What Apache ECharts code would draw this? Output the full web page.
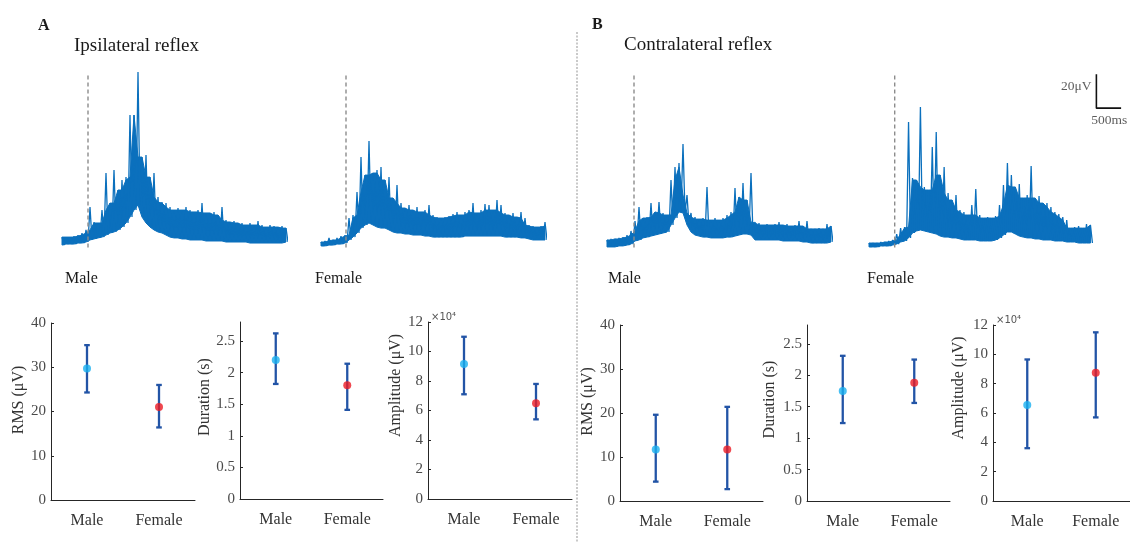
<!DOCTYPE html>
<html>
<head>
<meta charset="utf-8">
<script src="https://cdn.jsdelivr.net/npm/echarts@6/dist/echarts.min.js"></script>
<style>
  html, body { margin: 0; padding: 0; background: #fff; }
  #chart { width: 1130px; height: 543px; }
</style>
</head>
<body>
<div id="chart"></div>
<script>
// ---- EMG traces: upper / lower envelope of the rectified signal (µV), one value per sample ----
const SAMPLE_MS = 80;

const ipsiMaleUpper = [7.6,7.6,7.6,8.2,8.8,10,11.8,25.3,16.5,15.9,23.5,45.3,27.6,47.1,35.3,41.2,42.9,79.4,79.4,104.7,54.7,55.9,42.9,45.3,31.2,28.2,27.6,25.3,23.5,24.7,23.5,25.3,23.5,22.4,23.5,27.6,21.8,21.8,22.4,20.6,25.3,17.6,16.5,17.1,15.9,15.9,14.7,15.9,14.7,17.1,14.7,13.5,14.7,14.1,13.5,14.1,12.9];
const ipsiMaleLower = [2.9,3.5,3.5,3.5,4.1,4.1,4.7,5.9,6.5,7.1,7.6,8.8,10,10.6,11.8,13.5,15.9,19.4,23.5,26.5,19.4,15.9,13.5,11.8,10.6,10,8.8,7.6,7.1,7.1,6.5,6.5,5.9,5.9,5.9,5.9,5.3,5.3,5.3,5.3,5.3,4.7,4.7,4.7,4.7,4.7,4.7,4.1,4.1,4.1,4.1,4.1,4.1,4.1,4.1,4.1,4.7];

const ipsiFemaleUpper = [4.7,5.3,7.1,5.9,7.1,8.2,8.8,18.8,20.6,34.1,54.7,44.1,64.1,45.3,47.1,48.8,41.2,42.9,30.6,38.2,27.6,24.7,26.5,23.5,25.3,22.4,23.5,26.5,20.6,19.4,18.8,19.4,20,21.2,22.4,20.6,22.4,23.5,27.6,21.8,23.5,27.1,26.5,23.5,29.4,26.5,21.8,20.6,21.8,19.4,22.4,18.8,14.7,14.1,13.5,14.1,16.5];
const ipsiFemaleLower = [2.4,2.4,2.9,2.9,3.5,3.5,4.1,5.9,7.6,10,12.9,14.7,15.9,14.7,13.5,12.9,12.9,11.8,10.6,10,10,9.4,9.4,8.8,8.8,8.8,8.2,8.2,7.6,7.6,7.6,7.6,7.6,7.6,7.6,7.6,8.2,8.2,8.2,8.2,8.2,8.2,8.2,8.2,8.2,8.2,7.6,7.6,7.6,7.6,7.1,7.1,6.5,5.9,5.9,5.9,5.9];

const contraMaleUpper = [5.9,6.5,6.5,7.1,7.6,8.8,11.2,17.1,25.3,18.8,19.4,27.6,22.4,28.2,21.8,20.6,41.2,48.8,51.2,62.4,32.4,21.8,19.4,18.2,18.8,37.1,17.6,18.8,17.6,18.8,20.6,22.4,36.5,31.2,39.4,29.4,45.3,16.5,15.9,14.7,15.3,14.7,15.3,16.5,14.7,15.3,14.1,14.7,17.1,14.1,17.1,12.4,12.4,12.9,12.4,15.3,14.1];
const contraMaleLower = [1.8,1.8,1.8,2.4,2.4,2.9,3.5,5.3,5.9,7.1,7.6,8.2,8.8,9.4,10,10.6,14.7,18.8,22.4,21.8,14.7,10.6,8.8,8.2,7.6,7.6,7.1,7.1,7.1,7.1,7.6,7.6,8.2,8.8,9.4,9.4,8.8,5.9,5.9,5.9,5.9,5.9,5.9,5.9,5.3,5.3,5.3,5.3,5.3,4.7,4.7,4.1,4.1,4.1,4.1,4.1,4.7];

const contraFemaleUpper = [4.1,4.1,4.1,4.7,4.7,5.3,5.9,9.4,12.9,13.5,75.3,42.4,41.2,84.1,37.1,35.3,60.6,69.4,44.1,48.8,33.5,29.4,32.4,23.5,22.4,20.6,26.5,35.9,20.6,18.8,19.4,18.8,20,26.5,38.2,51.2,44.1,37.1,38.8,30.6,32.4,49.4,30.6,31.8,27.6,27.6,25.3,22.4,21.2,19.4,17.6,12.9,13.5,14.1,12.9,15.3,14.7];
const contraFemaleLower = [1.8,1.8,1.8,2.4,2.4,2.4,2.9,3.5,4.7,5.3,7.1,10,11.2,11.8,11.2,10.6,10,9.4,8.2,7.6,7.6,7.1,7.1,6.5,5.9,5.9,5.9,5.9,5.3,5.3,5.3,5.3,5.9,7.1,8.8,10.6,10.6,9.4,8.2,7.6,7.1,7.1,6.5,6.5,5.9,5.9,5.9,5.3,5.3,5.3,4.7,4.7,4.7,4.1,4.1,4.1,4.1];

// stimulus onset per trace (ms from trace start)
const stimOnsetMs = [520, 500, 540, 520];
const onsetLineRangeUv = [1.5, 103];

// scale bar
const SCALE_BAR_UV = 20;
const SCALE_BAR_MS = 500;

// ---- group statistics: mean with error-bar limits ----
const groups = ['Male', 'Female'];

const ipsiRmsMean = [29.7, 21.0];
const ipsiRmsLow  = [24.3, 16.4];
const ipsiRmsHigh = [35.0, 26.0];

const ipsiDurMean = [2.20, 1.80];
const ipsiDurLow  = [1.82, 1.41];
const ipsiDurHigh = [2.62, 2.14];

const ipsiAmpMean = [91500, 65000];
const ipsiAmpLow  = [71000, 54000];
const ipsiAmpHigh = [110000, 78000];

const contraRmsMean = [11.7, 11.7];
const contraRmsLow  = [4.4, 2.7];
const contraRmsHigh = [19.6, 21.4];

const contraDurMean = [1.75, 1.88];
const contraDurLow  = [1.24, 1.56];
const contraDurHigh = [2.31, 2.25];

const contraAmpMean = [65500, 87500];
const contraAmpLow  = [36000, 57000];
const contraAmpHigh = [96500, 115000];

const rmsTicks = [0, 10, 20, 30, 40];
const durTicks = [0, 0.5, 1, 1.5, 2, 2.5];
const ampTicks = [0, 20000, 40000, 60000, 80000, 100000, 120000];

// ---- styling ----
const SERIF = "'Liberation Serif', 'DejaVu Serif', serif";
const TRACE_COLOR = '#0b70bd';
const AXIS_COLOR = '#262626';
const LABEL_COLOR = '#4a4a4a';
const BAR_COLOR = '#2254a6';
const GROUP_COLORS = ['#19b0f0', '#ec1c24'];
const MS_PER_PX = 20;   // horizontal trace scale
const UV_SPAN = 103;    // vertical trace range shown in 175 px

const traces = [
  { upper: ipsiMaleUpper, lower: ipsiMaleLower },
  { upper: ipsiFemaleUpper, lower: ipsiFemaleLower },
  { upper: contraMaleUpper, lower: contraMaleLower },
  { upper: contraFemaleUpper, lower: contraFemaleLower }
];
const traceLeft = [62, 321, 607, 869];
const traceWidth = [224, 224, 224, 264];   // the last one also carries the scale bar

const panels = [
  { mean: ipsiRmsMean, low: ipsiRmsLow, high: ipsiRmsHigh, name: 'RMS (μV)', max: 40, ticks: rmsTicks, scale: 1 },
  { mean: ipsiDurMean, low: ipsiDurLow, high: ipsiDurHigh, name: 'Duration (s)', max: 2.8, ticks: durTicks, scale: 1 },
  { mean: ipsiAmpMean, low: ipsiAmpLow, high: ipsiAmpHigh, name: 'Amplitude (μV)', max: 120000, ticks: ampTicks, scale: 1e4 },
  { mean: contraRmsMean, low: contraRmsLow, high: contraRmsHigh, name: 'RMS (μV)', max: 40, ticks: rmsTicks, scale: 1 },
  { mean: contraDurMean, low: contraDurLow, high: contraDurHigh, name: 'Duration (s)', max: 2.8, ticks: durTicks, scale: 1 },
  { mean: contraAmpMean, low: contraAmpLow, high: contraAmpHigh, name: 'Amplitude (μV)', max: 120000, ticks: ampTicks, scale: 1e4 }
];
const panelLayout = [
  { left: 51,  top: 323, width: 144, height: 177, nameGap: 21, nameShift: 23 },
  { left: 240, top: 322, width: 143, height: 177, nameGap: 26, nameShift: 27 },
  { left: 428, top: 322, width: 144, height: 177, nameGap: 23, nameShift: 50 },
  { left: 620, top: 325, width: 143, height: 176, nameGap: 23, nameShift: 23 },
  { left: 807, top: 325, width: 143, height: 176, nameGap: 29, nameShift: 27 },
  { left: 993, top: 325, width: 144, height: 176, nameGap: 26, nameShift: 50 }
];

const grids = [], xAxes = [], yAxes = [], series = [];

// filled core of a trace: polygon between the lower envelope and the local floor
// of the upper envelope, projected through the trace's axes
function makeCoreRenderer(tr) {
  return function (params, api) {
    const n = Math.min(tr.upper.length, tr.lower.length);
    const top = [], bottom = [];
    for (let i = 0; i < n; i++) {
      const u = Math.min(tr.upper[Math.max(0, i - 1)], tr.upper[i], tr.upper[Math.min(n - 1, i + 1)]);
      top.push(api.coord([i * SAMPLE_MS, u]));
      bottom.push(api.coord([i * SAMPLE_MS, tr.lower[i]]));
    }
    return {
      type: 'polygon',
      shape: { points: top.concat(bottom.reverse()) },
      style: { fill: TRACE_COLOR, stroke: TRACE_COLOR, lineWidth: 1 }
    };
  };
}

traces.forEach((tr, k) => {
  grids.push({ left: traceLeft[k], top: 75, width: traceWidth[k], height: 175 });
  xAxes.push({ type: 'value', gridIndex: k, min: 0, max: traceWidth[k] * MS_PER_PX, show: false });
  yAxes.push({ type: 'value', gridIndex: k, min: 0, max: UV_SPAN, show: false });
  const n = Math.min(tr.upper.length, tr.lower.length);
  const zig = [];
  for (let i = 0; i < n; i++) {
    zig.push([i * SAMPLE_MS, tr.upper[i]]);
    zig.push([i * SAMPLE_MS + SAMPLE_MS / 2, tr.lower[i]]);
  }
  series.push({
    type: 'custom', xAxisIndex: k, yAxisIndex: k, silent: true, clip: false,
    renderItem: makeCoreRenderer(tr), data: [[0, 0]]
  });
  series.push({
    type: 'line', xAxisIndex: k, yAxisIndex: k, data: zig, showSymbol: false, clip: false,
    lineStyle: { color: TRACE_COLOR, width: 1.3 }, silent: true
  });
  series.push({
    type: 'line', xAxisIndex: k, yAxisIndex: k, showSymbol: false, clip: false, silent: true,
    data: [[stimOnsetMs[k], onsetLineRangeUv[0]], [stimOnsetMs[k], onsetLineRangeUv[1]]],
    lineStyle: { color: '#8c8c8c', width: 1.4, type: [4, 3] }, z: 3
  });
});

// scale bar beside the last trace
const sbT0 = 4600, sbV0 = 83.5;
series.push({
  type: 'line', xAxisIndex: 3, yAxisIndex: 3, showSymbol: false, clip: false, silent: true,
  data: [[sbT0, sbV0 + SCALE_BAR_UV], [sbT0, sbV0], [sbT0 + SCALE_BAR_MS, sbV0]],
  lineStyle: { color: '#111', width: 1.6 }
});
series.push({
  type: 'scatter', xAxisIndex: 3, yAxisIndex: 3, symbolSize: 0, clip: false, silent: true,
  data: [
    { value: [sbT0, sbV0 + 12.5], label: { show: true, position: 'left', distance: 5, formatter: SCALE_BAR_UV + 'μV' } },
    { value: [sbT0 + 260, sbV0], label: { show: true, position: 'bottom', distance: 5, formatter: SCALE_BAR_MS + 'ms' } }
  ],
  label: { color: '#333', fontFamily: SERIF, fontSize: 13.5 }
});

// error bars drawn from the axis coordinates
function renderErrorBar(params, api) {
  const x = api.value(0);
  const pLo = api.coord([x, api.value(1)]);
  const pHi = api.coord([x, api.value(2)]);
  const cap = 2.8;
  const style = { stroke: BAR_COLOR, lineWidth: 2.3, fill: null };
  return {
    type: 'group',
    children: [
      { type: 'line', shape: { x1: pLo[0], y1: pLo[1], x2: pHi[0], y2: pHi[1] }, style },
      { type: 'line', shape: { x1: pLo[0] - cap, y1: pLo[1], x2: pLo[0] + cap, y2: pLo[1] }, style },
      { type: 'line', shape: { x1: pHi[0] - cap, y1: pHi[1], x2: pHi[0] + cap, y2: pHi[1] }, style }
    ]
  };
}

panels.forEach((p, j) => {
  const g = 4 + j;
  const L = panelLayout[j];
  grids.push({ left: L.left, top: L.top, width: L.width, height: L.height });
  xAxes.push({
    type: 'category', gridIndex: g, data: groups, boundaryGap: true,
    axisLine: { lineStyle: { color: AXIS_COLOR, width: 1 } },
    axisTick: { inside: true, length: 4, alignWithLabel: true, lineStyle: { color: AXIS_COLOR } },
    axisLabel: { color: '#333', fontFamily: SERIF, fontSize: 16, margin: 13 },
    splitLine: { show: false }
  });
  yAxes.push({
    type: 'value', gridIndex: g, min: 0, max: p.max,
    axisLine: { show: true, lineStyle: { color: AXIS_COLOR, width: 1 } },
    axisTick: { show: true, inside: true, length: 3, customValues: p.ticks, lineStyle: { color: AXIS_COLOR } },
    axisLabel: {
      color: LABEL_COLOR, fontFamily: SERIF, fontSize: 15, margin: 5, customValues: p.ticks,
      formatter: v => String(+(v / p.scale).toFixed(2))
    },
    splitLine: { show: false },
    name: p.name, nameLocation: 'middle', nameGap: L.nameGap,
    nameTextStyle: { color: '#333', fontFamily: SERIF, fontSize: 16, padding: [0, 0, 0, L.nameShift] }
  });
  series.push({
    type: 'custom', xAxisIndex: g, yAxisIndex: g, renderItem: renderErrorBar, silent: true,
    data: groups.map((_, i) => [i, p.low[i], p.high[i]])
  });
  series.push({
    type: 'scatter', xAxisIndex: g, yAxisIndex: g, symbol: 'circle', symbolSize: 8, silent: true, z: 5,
    data: groups.map((_, i) => ({ value: [i, p.mean[i]], itemStyle: { color: GROUP_COLORS[i] } }))
  });
});

const textStyle = { fontFamily: SERIF, color: '#1a1a1a', fontWeight: 'normal' };
const titles = [
  { text: 'A', left: 38, top: 18, textStyle: Object.assign({}, textStyle, { fontSize: 16, fontWeight: 'bold' }) },
  { text: 'Ipsilateral reflex', left: 74, top: 37, textStyle: Object.assign({}, textStyle, { fontSize: 19 }) },
  { text: 'B', left: 592, top: 17, textStyle: Object.assign({}, textStyle, { fontSize: 16, fontWeight: 'bold' }) },
  { text: 'Contralateral reflex', left: 624, top: 36, textStyle: Object.assign({}, textStyle, { fontSize: 19 }) },
  { text: 'Male', left: 65, top: 271, textStyle: Object.assign({}, textStyle, { fontSize: 16 }) },
  { text: 'Female', left: 315, top: 271, textStyle: Object.assign({}, textStyle, { fontSize: 16 }) },
  { text: 'Male', left: 608, top: 271, textStyle: Object.assign({}, textStyle, { fontSize: 16 }) },
  { text: 'Female', left: 867, top: 271, textStyle: Object.assign({}, textStyle, { fontSize: 16 }) },
  { text: '×10⁴', left: 431, top: 312, textStyle: Object.assign({}, textStyle, { fontSize: 10, color: '#555', fontFamily: "'DejaVu Sans', sans-serif" }) },
  { text: '×10⁴', left: 996, top: 315, textStyle: Object.assign({}, textStyle, { fontSize: 10, color: '#555', fontFamily: "'DejaVu Sans', sans-serif" }) }
].map(t => Object.assign({ padding: 0 }, t));

const chart = echarts.init(document.getElementById('chart'), null, { renderer: 'canvas' });
chart.setOption({
  animation: false,
  backgroundColor: '#fff',
  title: titles,
  grid: grids,
  xAxis: xAxes,
  yAxis: yAxes,
  series: series,
  graphic: [{
    type: 'line', silent: true,
    shape: { x1: 577, y1: 32, x2: 577, y2: 543 },
    style: { stroke: '#a6a6a6', lineWidth: 1.2, lineDash: [2, 1.5] }
  }]
});
</script>
</body>
</html>
